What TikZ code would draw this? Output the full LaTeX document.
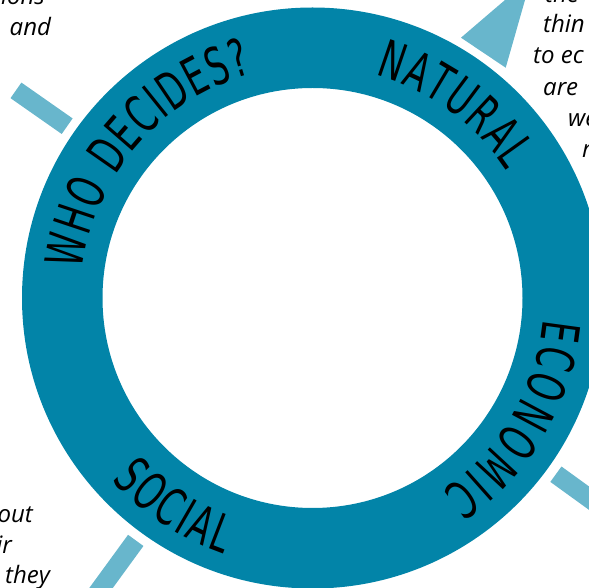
\documentclass[tikz,border=0pt]{standalone}
\usepackage{fontspec}
\usetikzlibrary{calc,decorations.text}
\newfontfamily\bodyfont{Open Sans}
\newfontfamily\ringfont[FakeStretch=0.63]{DejaVu Sans}
\definecolor{ringcol}{HTML}{0284A8}
\definecolor{barcol}{HTML}{68B6CC}
\tikzset{
  body/.style={font=\bodyfont\itshape\fontsize{24}{24}\selectfont, inner sep=0pt, text=black},
  barline/.style={draw=barcol, line width=19pt, line cap=butt},
  ringtext/.style={decorate, decoration={text along path, text align={fit to path}, text color=black, text={|\ringfont\fontsize{52}{52}\selectfont|#1}}}
}
\begin{document}
\begin{tikzpicture}[x=1pt,y=1pt]
\useasboundingbox (0,0) rectangle (589,587);
\clip (0,0) rectangle (589,587);
\coordinate (C) at (312.5,289);
% ring
\fill[ringcol,even odd rule] (C) circle[radius=290.5] (C) circle[radius=210];
% pointers
\coordinate (b1a) at ($(C)+(145:299.5)$);
\coordinate (b1b) at ($(C)+(145:362)$);
\coordinate (b2a) at ($(C)+(-35.9:300.5)$);
\coordinate (b2b) at ($(C)+(-35.9:420)$);
\coordinate (b3a) at ($(C)+(233.9:300)$);
\coordinate (b3b) at ($(C)+(233.9:420)$);
\draw[barline] (b1a) -- (b1b);
\draw[barline] (b2a) -- (b2b);
\draw[barline] (b3a) -- (b3b);
\coordinate (t1) at (461,549.3);
\coordinate (t2) at (505.7,519.3);
\coordinate (t3) at (531.5,609.7);
\fill[barcol] (t1) -- (t2) -- (t3) -- cycle;
% ring labels
\path[ringtext={WHO DECIDES?}] ($(C)+(173:232)$) arc[start angle=173, end angle=105, radius=232];
\path[ringtext={NATURAL}] ($(C)+(74.2:232)$) arc[start angle=74.2, end angle=33.3, radius=232];
\path[ringtext={ECONOMIC}] ($(C)+(-5.2:232)$) arc[start angle=-5.2, end angle=-56.1, radius=232];
\path[ringtext={SOCIAL}] ($(C)+(222.2:271)$) arc[start angle=222.2, end angle=250.9, radius=271];
% cropped paragraph texts
\node[body, anchor=base east] (tl1) at (45,582) {ions};
\node[body, anchor=base west] (tl2) at (9.5,551) {and};
\node[body, anchor=base west] (tr1) at (545,584) {the};
\node[body, anchor=base west] (tr2) at (543,554) {thin};
\node[body, anchor=base west] (tr3) at (533,523) {to ec};
\node[body, anchor=base west] (tr4) at (543,491) {are};
\node[body, anchor=base west] (tr5) at (568,460) {we};
\node[body, anchor=base west] (tr6) at (582,429) {r};
\node[body, anchor=base east] (bl1) at (33,65) {out};
\node[body, anchor=base east] (bl2) at (12,34) {ir};
\node[body, anchor=base west] (bl3) at (5,4) {they};
\end{tikzpicture}
\end{document}
